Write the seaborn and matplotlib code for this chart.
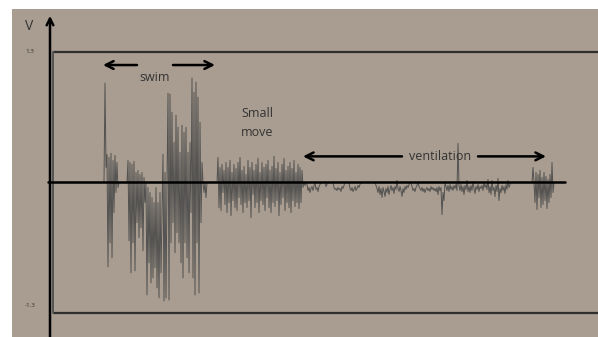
import numpy as np
import pandas as pd
import seaborn as sns
import matplotlib.pyplot as plt

# Signal samples (hundredths of a volt), one sample per time step
swim_start = 100
swim_v = [0, 0, 0, 0, 0, 99, 15, 28, -84, 25, -60, 29, -75, 22, -30, 27, -10, 20, -5,
          0, 0, 0, 0, 0, 0, 0, 0, 0,
          22, -58, 20, -90, 18, -60, 21, -88, 10, -40, 12, -55, 8, -45, 10, -68, 5, -20,
          0, -112, -5, -80, -10, -100, -15, -95, -20, -85, -5, -105, -20, -115, -10, -90,
          -30, 28, -118, 10, -115, 0,
          89, -117, 88, -60, 70, -40,
          40, -70, 67, -50, 55, -60, 30,
          -80, 57, -95, 50, -60, 55, -75, 30, -90, 40,
          -30, 104, -95, 90, -112, 100, -60, 85, -110, 60, -40, 20,
          0, -10, 0, -15, 0,
          0, 0, 0, 0, 0, 0, 0, 0, 0, 0]

move_start = 218
move_v = [25, -25, 15, -28, 18, -10, 12, -22, 20, -30, 15, -20, 22, -33, 10, -18,
          18, -25, 14, -28, 20, -15, 25, -22, 12, -30, 16, -20, 8, -25, 22, -18,
          15, -35, 20, -12, 12, -25, 18, -20, 24, -30, 10, -18, 20, -22, 15, -28,
          18, -15, 22, -25, 12, -30, 16, -20, 26, -24, 14, -18, 20, -33, 10, -22,
          18, -15, 24, -28, 12, -20, 16, -25, 20, -30, 14, -18, 22, -24, 10, -20,
          18, -26, 15, -20, 12, -5]

vent_start = 304
vent_v = [0, -3, 0, -2, -8, -5, -10, -6, -4, -8, -3, 0, -7, -5, -9, -4, -2,
          0, 0, 0, 0, 0, -4, -2, 0, 0, 0, 0, 0, 0,
          -5, -7, -6, -8, -5, -7, -6, -9, -4, -6, -3, 0, 0, 0, 0, 0,
          -6, -8, -5, -9, -7, -4, -8, -6, -3, -5, -2,
          0, 0, 0, 0, 0, 0, 0, 0, 0, 0, 0, 0, 0, 0, 0,
          -3, -6, -10, -4, -12, -6, -15, -5, -9, -14, -6, -10, -4, -12, -7, -3,
          -8, -5, -11, -4, -7, 2, -6, -9, -4, -8, -14, -6, -10, -4, -7, -3, -5, -2,
          0, 0, -4, -8, -6, -9, -5, -3, 0,
          -4, -6, -8, -5, -9, -6, -10, -7, -5, -8, -6, -9, -4, -7, -5, -8, -6, -9,
          -5, -12, -4, -8, -5, -32, -10, -18, 0,
          -4, -8, -3, -9, -2, -7, -4, -8, -3, -6, -2, -8, 39,
          -3, -8, -2, -9, -4, -12, -3, -7, 2, -9, -4, -10, -3, -8, 1, -6, -11, -4,
          -7, -2, -9, -4, -6, -3, -8, 0, -5, -2, -7,
          3, -10, -4, -12, 2, -8, -5, -14, -3, -9, 4, -18, -6, -10, -3, -8, -4, -11,
          -2, -7, 2, -5, -2,
          0, 0, 0, 0, 0, 0, 0, 0, 0, 0, 0, 0, 0, 0, 0, 0, 0, 0, 0, 0, 0, 0,
          15, 0, -20, 10, -27, 8, -15, 12, -25, 5, -22, 10, -18, 6, -26, 3, -20, 8,
          -15, 20, -10, 0,
          0, 0, 0, 0, 0, 0, 0, 0, 0, 0, 0]

y_limit = 1.3
tick_labels = ["1.3", "-1.3"]

frames = []
for start, vals in [(swim_start, swim_v), (move_start, move_v), (vent_start, vent_v)]:
    frames.append(pd.DataFrame({"t": np.arange(len(vals)) + start,
                                "v": np.array(vals) / 100.0}))
df = pd.concat(frames, ignore_index=True)

sns.set_theme(style="white")
plt.rcParams["font.family"] = ["Open Sans", "DejaVu Sans"]

bg = "#a89d90"
ink = "#333333"

fig = plt.figure(figsize=(5.98, 3.37), dpi=100, facecolor="white")
ax = fig.add_axes([12 / 598, 0, 586 / 598, 328 / 337])
ax.set_facecolor(bg)
ax.set_xlim(12, 598)
ax.set_ylim(-1.539, 1.728)
ax.set_xticks([])
ax.set_yticks([])
for s in ax.spines.values():
    s.set_visible(False)

# signal trace
sns.lineplot(data=df, x="t", y="v", ax=ax, color="#4a4a4a", lw=0.7, alpha=0.9,
             estimator=None, sort=False, legend=False)
ax.set_xlabel("")
ax.set_ylabel("")

# frame at +-1.3 and zero line
ax.plot([53, 598], [y_limit, y_limit], color="#2e2e2e", lw=1.6, solid_capstyle="butt")
ax.plot([53, 598], [-y_limit, -y_limit], color="#2e2e2e", lw=1.6, solid_capstyle="butt")
ax.plot([53, 53], [-y_limit, y_limit], color="#555555", lw=1.4)
ax.plot([48, 565], [0, 0], color="black", lw=1.8, zorder=4)

# vertical axis with arrow
ax.annotate("", xy=(50, 1.66), xytext=(50, -1.6),
            arrowprops=dict(arrowstyle="->", lw=1.8, color="black",
                            mutation_scale=12, shrinkA=0, shrinkB=0))
ax.text(29, 1.55, "V", fontsize=10, color=ink, ha="center", va="center")
ax.text(30, y_limit, tick_labels[0], fontsize=4.5, color=ink, ha="center", va="center")
ax.text(30, -1.23, tick_labels[1], fontsize=4.5, color=ink, ha="center", va="center")

arrow_kw = dict(arrowstyle="->", lw=1.8, color="black", mutation_scale=14,
                shrinkA=0, shrinkB=0)

# swim
ax.annotate("", xy=(103, 1.17), xytext=(137, 1.17), arrowprops=arrow_kw)
ax.annotate("", xy=(215, 1.17), xytext=(173, 1.17), arrowprops=arrow_kw)
ax.text(155, 1.05, "swim", fontsize=9, color=ink, ha="center", va="center")

# small move
ax.text(241, 0.69, "Small", fontsize=9, color=ink, ha="left", va="center")
ax.text(241, 0.50, "move", fontsize=9, color=ink, ha="left", va="center")

# ventilation
ax.annotate("", xy=(303, 0.26), xytext=(402, 0.26), arrowprops=arrow_kw)
ax.annotate("", xy=(546, 0.26), xytext=(478, 0.26), arrowprops=arrow_kw)
ax.text(440, 0.26, "ventilation", fontsize=9, color=ink, ha="center", va="center")

fig.savefig("out.png", dpi=100, facecolor="white")
